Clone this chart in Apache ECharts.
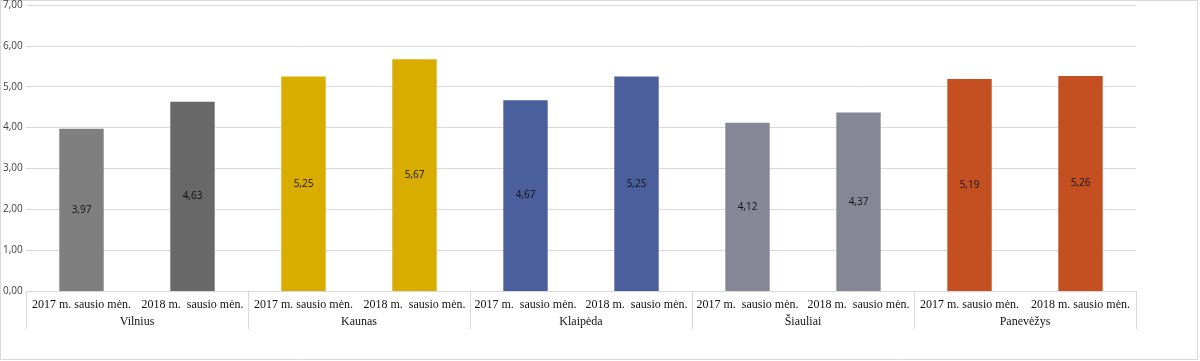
<!DOCTYPE html>
<html><head><meta charset="utf-8">
<script src="https://cdn.jsdelivr.net/npm/echarts@6/dist/echarts.min.js"></script>
<style>html,body{margin:0;padding:0;background:#fff;}#c{width:1200px;height:361px;}</style>
</head><body><div id="c"></div>
<script>
const periods = ["2017 m. sausio mėn.","2018 m.  sausio mėn.","2017 m. sausio mėn.","2018 m.  sausio mėn.","2017 m.  sausio mėn.","2018 m.  sausio mėn.","2017 m.  sausio mėn.","2018 m.  sausio mėn.","2017 m. sausio mėn.","2018 m. sausio mėn."];
const cities = ["Vilnius","Kaunas","Klaipėda","Šiauliai","Panevėžys"];
const values = [3.97,4.63,5.25,5.67,4.67,5.25,4.12,4.37,5.19,5.26];
const barColors = ["#7f7f7f","#686868","#d9ad00","#d9ad00","#4a5f9c","#4a5f9c","#858796","#858796","#c44f21","#c44f21"];

const chart = echarts.init(document.getElementById('c'), null, {renderer:'canvas'});
const fmt = v => v.toFixed(2).replace('.', ',');
chart.setOption({
  animation:false,
  grid:{left:24,right:64,top:5,bottom:70},
  graphic:[{type:'rect',shape:{x:0.5,y:0.5,width:1197,height:359},style:{fill:'none',stroke:'#d9d9d9',lineWidth:1},silent:true}],
  xAxis:[{
    type:'category',data:periods,position:'bottom',
    axisLine:{show:true,lineStyle:{color:'#d9d9d9'}},
    axisTick:{show:false},
    axisLabel:{interval:0,margin:8,fontFamily:'Liberation Serif',fontSize:12,color:'#111'}
  },{
    type:'category',data:cities,position:'bottom',
    axisLine:{show:false},
    axisTick:{show:true,length:38,lineStyle:{color:'#d9d9d9'}},
    axisLabel:{interval:0,margin:25,fontFamily:'Liberation Serif',fontSize:12,color:'#111'}
  }],
  yAxis:{
    type:'value',min:0,max:7,interval:1,
    axisLine:{show:false},axisTick:{show:false},
    splitLine:{lineStyle:{color:'#d9d9d9'}},
    axisLabel:{formatter:fmt,align:'left',margin:23,fontFamily:'Open Sans',fontSize:10,color:'#404040'}
  },
  series:[{
    type:'bar',xAxisIndex:0,barWidth:'40%',
    data:values.map((v,i)=>({value:v,itemStyle:{color:barColors[i]}})),
    label:{show:true,position:'inside',formatter:p=>fmt(p.value),fontFamily:'Open Sans',fontSize:10,color:'#111'}
  }]
});
</script></body></html>
